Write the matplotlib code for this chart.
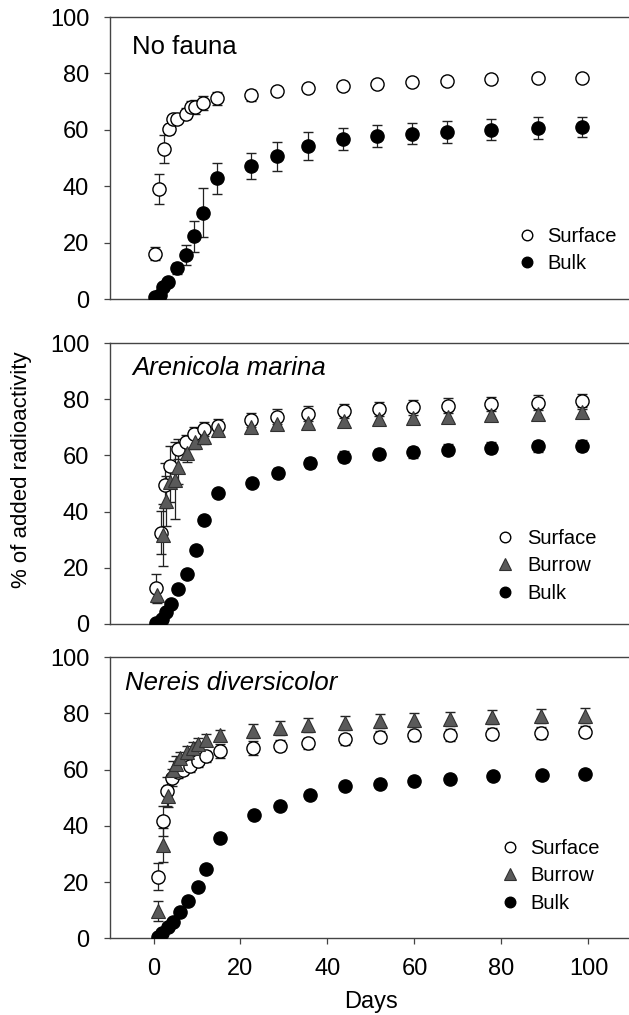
import matplotlib
matplotlib.use('Agg')
import matplotlib.pyplot as plt
from matplotlib.lines import Line2D
import numpy as np

plt.rcParams['font.family'] = ['Liberation Sans', 'DejaVu Sans']

# ---------------- data ----------------
# No fauna
nf_surf_day = [0.4, 1.2, 2.5, 3.5, 4.4, 5.4, 7.5, 8.6, 9.6, 11.3, 14.5, 22.4, 28.4, 35.5, 43.5, 51.4, 59.5, 67.5, 77.5, 88.4, 98.4]
nf_surf_val = [16.2, 39.0, 53.2, 60.2, 63.7, 64.0, 65.8, 68.2, 68.2, 69.4, 71.2, 72.3, 73.9, 74.7, 75.5, 76.2, 77.0, 77.4, 77.9, 78.3, 78.5]
nf_surf_err = [2.2, 5.4, 5.0, 1.5, 1.5, 1.5, 1.8, 2.0, 2.5, 2.5, 2.4, 2.0, 1.2, 1.0, 1.0, 1.0, 1.0, 1.0, 1.0, 1.0, 1.0]
nf_bulk_day = [0.4, 1.4, 2.1, 3.3, 5.4, 7.5, 9.4, 11.3, 14.5, 22.4, 28.4, 35.5, 43.5, 51.4, 59.5, 67.5, 77.5, 88.4, 98.4]
nf_bulk_val = [0.7, 1.5, 4.5, 6.2, 11.0, 15.7, 22.4, 30.7, 42.8, 47.1, 50.6, 54.2, 56.9, 57.7, 58.7, 59.2, 60.0, 60.6, 61.0]
nf_bulk_err = [0.5, 0.5, 0.8, 1.0, 2.0, 3.5, 5.5, 8.7, 5.5, 4.6, 5.0, 4.9, 3.9, 3.9, 3.8, 3.8, 3.7, 3.8, 3.5]

# Arenicola marina
am_surf_day = [0.6, 1.7, 2.7, 3.7, 5.6, 7.5, 9.4, 11.7, 14.8, 22.4, 28.4, 35.5, 43.7, 51.8, 59.7, 67.7, 77.7, 88.4, 98.6]
am_surf_val = [12.7, 32.5, 49.3, 56.4, 62.3, 64.9, 67.6, 69.4, 70.6, 72.6, 73.8, 74.9, 75.8, 76.5, 77.1, 77.7, 78.3, 78.8, 79.2]
am_surf_err = [5.0, 7.7, 8.0, 7.0, 3.5, 2.5, 2.5, 2.5, 2.5, 2.6, 2.6, 2.6, 2.6, 2.6, 2.6, 2.6, 2.6, 2.6, 2.6]
am_burr_day = [0.8, 2.1, 2.9, 3.7, 5.0, 5.7, 7.7, 9.6, 11.7, 14.8, 22.4, 28.4, 35.5, 43.7, 51.8, 59.7, 67.7, 77.7, 88.4, 98.6]
am_burr_val = [10.3, 31.6, 43.7, 50.5, 51.1, 55.8, 60.7, 64.6, 66.7, 69.1, 70.0, 71.0, 71.4, 72.1, 73.0, 73.3, 73.8, 74.5, 74.9, 75.3]
am_burr_err = [3.0, 11.0, 9.0, 7.0, 13.6, 6.0, 3.0, 2.5, 2.5, 2.0, 2.0, 2.0, 2.0, 2.0, 2.0, 2.0, 2.0, 2.0, 2.0, 2.0]
am_bulk_day = [0.6, 1.9, 2.9, 4.0, 5.6, 7.7, 9.8, 11.7, 14.8, 22.6, 28.6, 35.9, 43.8, 51.8, 59.7, 67.7, 77.7, 88.4, 98.6]
am_bulk_val = [0.5, 1.7, 4.4, 7.1, 12.3, 17.7, 26.2, 36.9, 46.7, 50.1, 53.7, 57.3, 59.6, 60.5, 61.1, 62.0, 62.7, 63.2, 63.5]
am_bulk_err = [0.5, 0.5, 0.7, 1.0, 1.0, 1.5, 1.0, 1.0, 1.0, 1.0, 1.8, 1.9, 1.9, 1.9, 1.9, 1.9, 1.9, 1.9, 1.9]

# Nereis diversicolor
nd_surf_day = [1.1, 2.1, 3.0, 4.2, 5.6, 6.7, 8.3, 10.2, 12.1, 15.3, 22.8, 29.0, 35.6, 44.0, 52.0, 60.0, 68.1, 77.8, 89.0, 99.2]
nd_surf_val = [21.8, 41.7, 52.2, 57.1, 59.1, 60.0, 61.1, 62.9, 64.7, 66.5, 67.7, 68.5, 69.3, 70.8, 71.7, 72.1, 72.3, 72.7, 73.0, 73.5]
nd_surf_err = [4.8, 5.2, 5.0, 3.0, 2.0, 2.0, 2.0, 2.0, 2.0, 2.5, 2.5, 2.0, 2.0, 2.0, 2.0, 2.0, 2.0, 2.0, 2.0, 2.0]
nd_burr_day = [1.1, 2.1, 3.3, 4.4, 5.2, 6.0, 7.7, 9.0, 10.2, 12.1, 15.3, 22.8, 29.0, 35.6, 44.0, 52.0, 60.0, 68.1, 77.8, 89.0, 99.2]
nd_burr_val = [9.8, 33.1, 50.5, 59.9, 61.8, 64.2, 66.2, 67.7, 69.1, 70.6, 72.1, 73.6, 74.8, 75.7, 76.5, 77.4, 77.7, 78.0, 78.6, 78.9, 79.2]
nd_burr_err = [3.5, 6.0, 4.0, 3.0, 3.0, 2.0, 2.0, 2.0, 2.0, 2.0, 2.0, 2.5, 2.5, 2.5, 2.5, 2.5, 2.5, 2.5, 2.5, 2.5, 2.5]
nd_bulk_day = [1.0, 1.9, 3.3, 4.4, 6.2, 8.0, 10.2, 12.1, 15.4, 23.2, 29.0, 35.9, 44.0, 52.0, 60.0, 68.1, 78.1, 89.2, 99.2]
nd_bulk_val = [0.4, 1.8, 4.1, 5.9, 9.4, 13.3, 18.1, 24.5, 35.5, 43.7, 47.0, 50.8, 54.0, 55.0, 55.9, 56.7, 57.6, 58.2, 58.5]
nd_bulk_err = [0.5, 0.5, 0.5, 0.5, 0.8, 0.8, 0.8, 0.8, 0.8, 1.0, 1.0, 1.0, 1.0, 1.0, 1.0, 1.0, 1.0, 1.0, 1.0]

panel_titles = ['No fauna', 'Arenicola marina', 'Nereis diversicolor']
y_ticks = [0, 20, 40, 60, 80, 100]
x_ticks = [0, 20, 40, 60, 80, 100]

# ---------------- styles ----------------
surf_kw = dict(marker='o', ms=9.5, mfc='white', mec='black', mew=1.0)
burr_kw = dict(marker='^', ms=10, mfc='#5a5a5a', mec='#303030', mew=0.8)
bulk_kw = dict(marker='o', ms=9.5, mfc='black', mec='black', mew=1.0)
err_kw = dict(ls='none', ecolor='#222222', elinewidth=0.9, capsize=3.8, capthick=1.0)

W, H = 629, 1015
fig = plt.figure(figsize=(W / 100, H / 100), dpi=100)

left = 110 / W
width = 522 / W
# (top pixel, bottom pixel) for each panel
rows = [(17, 299.3), (343, 624), (657, 938.3)]

axes = []
for top, bot in rows:
    ax = fig.add_axes([left, 1 - bot / H, width, (bot - top) / H])
    axes.append(ax)

def style(ax, show_x):
    ax.set_xlim(-10, 110)
    ax.set_ylim(0, 100)
    ax.set_yticks(y_ticks)
    ax.spines['right'].set_visible(False)
    for s in ['left', 'top', 'bottom']:
        ax.spines[s].set_color('#444444')
        ax.spines[s].set_linewidth(1.0)
    ax.tick_params(axis='y', direction='out', length=4, width=0.9, color='#444444',
                   labelsize=17, pad=11)
    if show_x:
        ax.set_xticks(x_ticks)
        ax.tick_params(axis='x', direction='out', length=4, width=0.9, color='#444444',
                       labelsize=17, pad=10)
    else:
        ax.set_xticks([])

def plot_series(ax, d, v, e, kw):
    ax.errorbar(d, v, yerr=e, **err_kw, zorder=2)
    ax.plot(d, v, ls='none', zorder=3, **kw)

leg_kw = dict(loc='upper left', frameon=False, fontsize=14.5, handlelength=1.0,
              borderpad=0, borderaxespad=0, labelspacing=0.42, markerscale=0.8)

# panel 1
ax = axes[0]
plot_series(ax, nf_surf_day, nf_surf_val, nf_surf_err, surf_kw)
plot_series(ax, nf_bulk_day, nf_bulk_val, nf_bulk_err, bulk_kw)
style(ax, False)
ax.text(0.042, 0.894, panel_titles[0], transform=ax.transAxes, fontsize=18.5, va='center')
h = [Line2D([], [], ls='none', **surf_kw), Line2D([], [], ls='none', **bulk_kw)]
ax.legend(h, ['Surface', 'Bulk'], bbox_to_anchor=(0.78, 0.257), handletextpad=0.5, **leg_kw)

# panel 2
ax = axes[1]
plot_series(ax, am_surf_day, am_surf_val, am_surf_err, surf_kw)
plot_series(ax, am_burr_day, am_burr_val, am_burr_err, burr_kw)
plot_series(ax, am_bulk_day, am_bulk_val, am_bulk_err, bulk_kw)
style(ax, False)
ax.text(0.042, 0.911, panel_titles[1], transform=ax.transAxes, fontsize=18.5,
        style='italic', va='center')
h = [Line2D([], [], ls='none', **surf_kw), Line2D([], [], ls='none', **burr_kw),
     Line2D([], [], ls='none', **bulk_kw)]
ax.legend(h, ['Surface', 'Burrow', 'Bulk'], bbox_to_anchor=(0.737, 0.339),
          handletextpad=0.6, **leg_kw)

# panel 3
ax = axes[2]
plot_series(ax, nd_surf_day, nd_surf_val, nd_surf_err, surf_kw)
plot_series(ax, nd_burr_day, nd_burr_val, nd_burr_err, burr_kw)
plot_series(ax, nd_bulk_day, nd_bulk_val, nd_bulk_err, bulk_kw)
style(ax, True)
ax.text(0.028, 0.908, panel_titles[2], transform=ax.transAxes, fontsize=18.5,
        style='italic', va='center')
ax.legend(h, ['Surface', 'Burrow', 'Bulk'], bbox_to_anchor=(0.747, 0.354),
          handletextpad=0.5, **leg_kw)
ax.set_xlabel('Days', fontsize=17, labelpad=8)

fig.text(22 / W, 1 - 470 / H, '% of added radioactivity', rotation=90,
         ha='center', va='center', fontsize=16)

fig.savefig('out.png', dpi=100, facecolor='white')
